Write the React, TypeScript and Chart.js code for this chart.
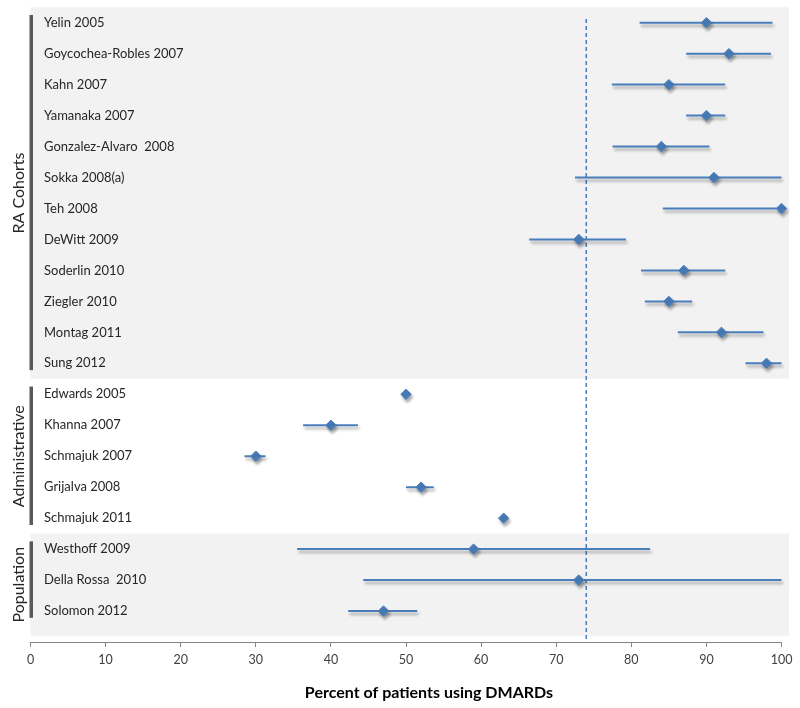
import React, { useEffect, useRef } from "react";
import { Chart, registerables } from "chart.js";

Chart.register(...registerables);

// ---------- data ----------
const studies = [
  "Yelin 2005",
  "Goycochea-Robles 2007",
  "Kahn 2007",
  "Yamanaka 2007",
  "Gonzalez-Alvaro  2008",
  "Sokka 2008(a)",
  "Teh 2008",
  "DeWitt 2009",
  "Soderlin 2010",
  "Ziegler 2010",
  "Montag 2011",
  "Sung 2012",
  "Edwards 2005",
  "Khanna 2007",
  "Schmajuk 2007",
  "Grijalva 2008",
  "Schmajuk 2011",
  "Westhoff 2009",
  "Della Rossa  2010",
  "Solomon 2012",
];
const estimates = [90, 93, 85, 90, 84, 91, 100, 73, 87, 85, 92, 98, 50, 40, 30, 52, 63, 59, 73, 47];
const lowerCI = [81.1, 87.3, 77.4, 87.3, 77.5, 72.5, 84.2, 66.4, 81.3, 81.8, 86.2, 95.2, null, 36.3, 28.5, 50.0, null, 35.5, 44.3, 42.3];
const upperCI = [98.8, 98.6, 92.5, 92.5, 90.4, 100, 100, 79.3, 92.5, 88.1, 97.6, 100, null, 43.6, 31.3, 53.7, null, 82.5, 100, 51.5];

const groupNames = ["RA Cohorts", "Administrative", "Population"];
const groupFirstRow = [0, 12, 17];
const groupLastRow = [11, 16, 19];
const groupBandTop = [-0.5, 11.5, 16.5];
const groupBandBottom = [11.5, 16.5, 19.8];
const groupShaded = [true, false, true];

const pooledValue = 74;
const xTickValues = [0, 10, 20, 30, 40, 50, 60, 70, 80, 90, 100];
const xTitle = "Percent of patients using DMARDs";

// ---------- styles ----------
const BLUE = "#4a7ebb";
const FONT = "Lato, 'Open Sans', sans-serif";

const decorPlugin = {
  id: "decor",
  beforeDraw(chart: any) {
    const { ctx, scales } = chart;
    const x = scales.x;
    const y = scales.y;
    ctx.save();
    for (let g = 0; g < groupNames.length; g++) {
      if (!groupShaded[g]) continue;
      const top = y.getPixelForValue(groupBandTop[g]);
      const bottom = y.getPixelForValue(groupBandBottom[g]);
      const left = x.getPixelForValue(0);
      const right = x.getPixelForValue(101);
      ctx.fillStyle = "#f2f2f2";
      ctx.fillRect(left, top, right - left, bottom - top);
    }
    ctx.restore();
  },
  afterDraw(chart: any) {
    const { ctx, chartArea, scales } = chart;
    const y = scales.y;
    ctx.save();
    for (let g = 0; g < groupNames.length; g++) {
      const t = y.getPixelForValue(groupFirstRow[g] - 0.25);
      const b = y.getPixelForValue(groupLastRow[g] + 0.22);
      ctx.fillStyle = "#595959";
      ctx.fillRect(chartArea.left - 1, t, 3.5, b - t);
      const c = (y.getPixelForValue(groupBandTop[g]) + y.getPixelForValue(groupBandBottom[g])) / 2;
      ctx.save();
      ctx.translate(18.5, c);
      ctx.rotate(-Math.PI / 2);
      ctx.font = `16px ${FONT}`;
      ctx.fillStyle = "#262626";
      ctx.textAlign = "center";
      ctx.textBaseline = "middle";
      ctx.fillText(groupNames[g], 0, 0);
      ctx.restore();
    }
    ctx.font = `bold 16px ${FONT}`;
    ctx.fillStyle = "#000000";
    ctx.textAlign = "center";
    ctx.textBaseline = "middle";
    ctx.fillText(xTitle, (chartArea.left + chartArea.right) / 2 + 23, 693);
    ctx.restore();
  },
  beforeDatasetDraw(chart: any, args: any) {
    const ds = chart.data.datasets[args.index];
    if (ds && ds.shadow) {
      const ctx = chart.ctx;
      ctx.save();
      ctx.shadowColor = "rgba(0,0,0,0.32)";
      ctx.shadowBlur = 3;
      ctx.shadowOffsetX = 1.5;
      ctx.shadowOffsetY = 3;
    }
  },
  afterDatasetDraw(chart: any, args: any) {
    const ds = chart.data.datasets[args.index];
    if (ds && ds.shadow) chart.ctx.restore();
  },
};

export default function App() {
  const canvasRef = useRef<HTMLCanvasElement | null>(null);

  useEffect(() => {
    if (!canvasRef.current) return;

    const ciData: any[] = [];
    studies.forEach((_, i) => {
      if (lowerCI[i] == null || upperCI[i] == null) return;
      ciData.push({ x: lowerCI[i], y: i });
      ciData.push({ x: upperCI[i], y: i });
      ciData.push({ x: upperCI[i], y: null });
    });
    const pointData = estimates.map((v, i) => ({ x: v, y: i }));

    const chart = new Chart(canvasRef.current, {
      type: "scatter",
      data: {
        datasets: [
          {
            label: "Estimate",
            data: pointData,
            pointStyle: "rectRot",
            pointRadius: 5.2,
            pointBackgroundColor: BLUE,
            pointBorderColor: BLUE,
            pointBorderWidth: 1,
            showLine: false,
            order: 0,
            clip: false,
            shadow: true,
          } as any,
          {
            label: "95% CI",
            data: ciData,
            showLine: true,
            spanGaps: false,
            borderColor: BLUE,
            borderWidth: 2,
            pointRadius: 0,
            order: 1,
            clip: false,
            shadow: true,
          } as any,
          {
            label: "Pooled",
            data: [
              { x: pooledValue, y: -0.12 },
              { x: pooledValue, y: 20 },
            ],
            showLine: true,
            borderColor: BLUE,
            borderWidth: 1.5,
            borderDash: [4, 3],
            pointRadius: 0,
            order: 2,
            clip: false,
          } as any,
        ],
      },
      options: {
        animation: false,
        responsive: true,
        maintainAspectRatio: false,
        layout: { padding: { top: 7.2, right: 18.5, left: 0, bottom: 0 } },
        plugins: {
          legend: { display: false },
          tooltip: { enabled: false },
          title: { display: false },
        },
        scales: {
          x: {
            type: "linear",
            min: 0,
            max: 100,
            afterBuildTicks: (s: any) => {
              s.ticks = xTickValues.map((v) => ({ value: v }));
            },
            afterFit: (s: any) => {
              s.height = 66;
              s.paddingLeft = 0;
              s.paddingRight = 0;
            },
            grid: {
              drawOnChartArea: false,
              drawTicks: true,
              tickLength: 5,
              color: "#868686",
            },
            border: { color: "#868686", width: 1 },
            ticks: {
              padding: 5,
              color: "#404040",
              font: { family: FONT, size: 12.5 },
            },
          },
          y: {
            type: "linear",
            reverse: true,
            min: -0.5,
            max: 20,
            afterBuildTicks: (s: any) => {
              s.ticks = studies.map((_, i) => ({ value: i }));
            },
            afterFit: (s: any) => {
              s.width = 30.5;
              s.paddingTop = 0;
              s.paddingBottom = 0;
            },
            grid: { display: false },
            border: { display: false },
            ticks: {
              mirror: true,
              padding: 13.5,
              autoSkip: false,
              color: "#262626",
              font: { family: FONT, size: 13 },
              callback: (v: any) => studies[v as number] ?? "",
            },
          },
        },
      },
      plugins: [decorPlugin],
    });

    return () => chart.destroy();
  }, []);

  return (
    <div style={{ position: "fixed", left: 0, top: 0, width: 800, height: 708, background: "#ffffff" }}>
      <canvas ref={canvasRef} />
    </div>
  );
}
